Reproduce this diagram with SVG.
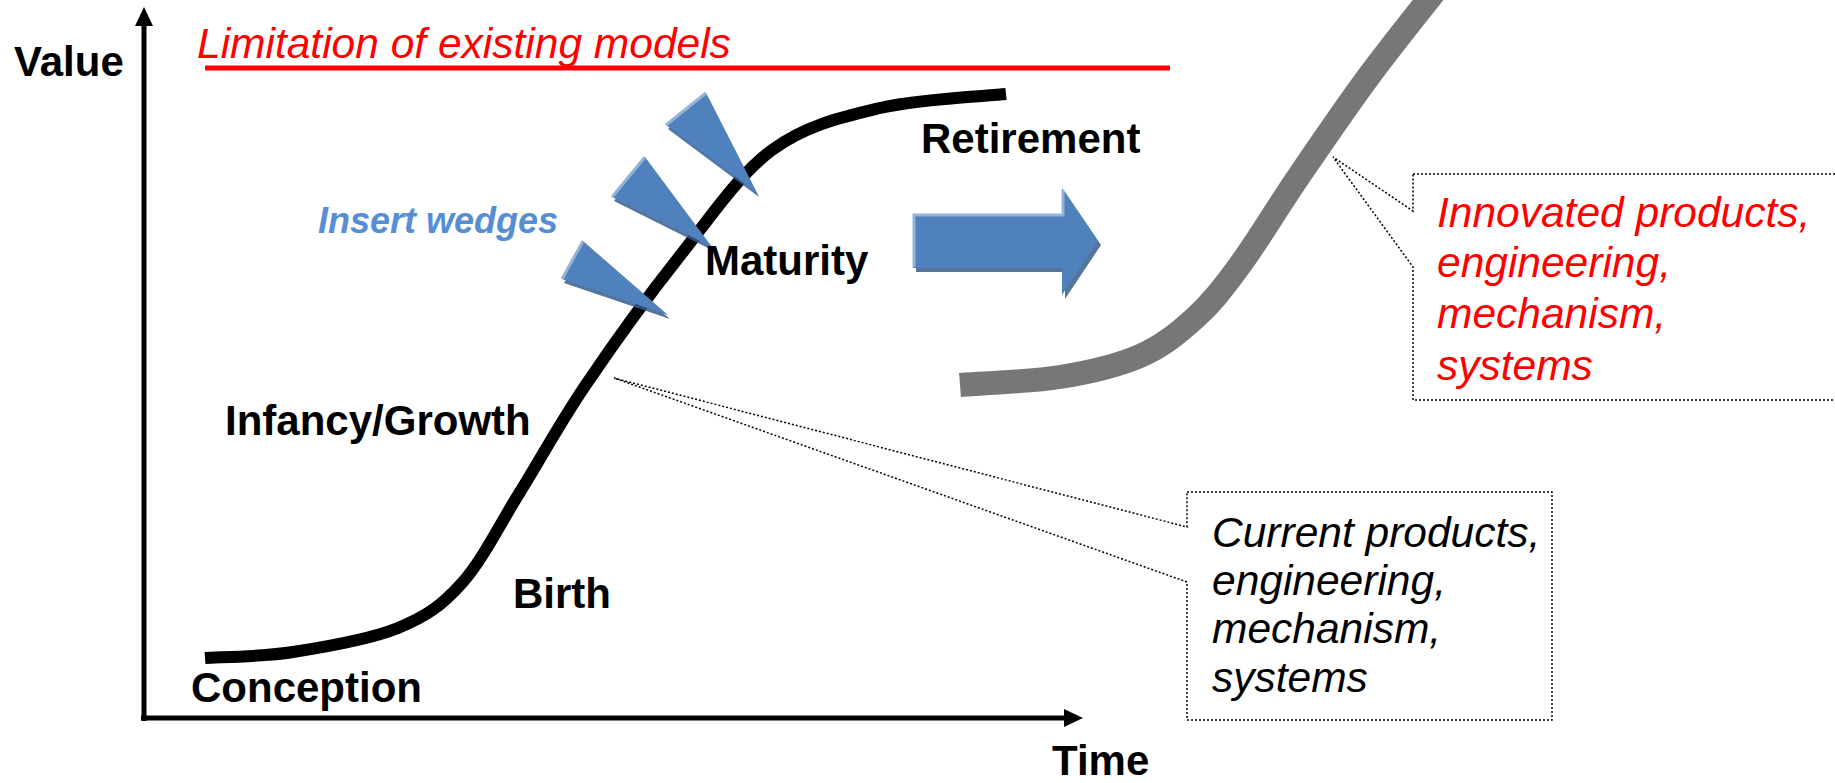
<svg xmlns="http://www.w3.org/2000/svg" width="1835" height="783" viewBox="0 0 1835 783">
<style>
  .lbl{font-family:"Liberation Sans",Arial,sans-serif;font-weight:bold;font-size:42px;fill:#000}
  .it{font-family:"Liberation Sans",Arial,sans-serif;font-style:italic;font-size:42.5px}
  .callout{fill:#fff;stroke:#000;stroke-width:1.5;stroke-dasharray:2 2}
  .wedge{fill:#4f81bd}
  .shadow{fill:#385d8a;opacity:0.85}
  .hl{stroke:#95b3d7;stroke-width:3;fill:none}
</style>
<rect width="1835" height="783" fill="#fff"/>

<g id="connectors">
  <line x1="144" y1="721" x2="144" y2="24" stroke="#000" stroke-width="5"/>
  <polygon points="135,26 144,7 153,26" fill="#000"/>
  <line x1="141" y1="718" x2="1066" y2="718" stroke="#000" stroke-width="5"/>
  <polygon points="1064,709 1083,718 1064,727" fill="#000"/>
</g>

<g id="limitation">
  <line x1="205" y1="68" x2="1170" y2="68" stroke="#ff0000" stroke-width="5"/>
  <text class="it" x="197" y="58" fill="#ff0000">Limitation of existing models</text>
</g>

<g id="current-curve">
  <path d="M205,658 C219.7,657 260.8,657 293,652 C325.2,647 369.8,639.5 398,628 C426.2,616.5 441.7,605.7 462,583 C482.3,560.3 499.5,524.8 520,492 C540.5,459.2 558.5,425.2 585,386 C611.5,346.8 647.8,296.3 679,257 C710.2,217.7 738.5,174.8 772,150 C805.5,125.2 841,117.3 880,108 C919,98.7 985,96.3 1006,94" fill="none" stroke="#000" stroke-width="12"/>
</g>

<g id="innovated-curve">
  <path d="M960,385 C976.7,383.7 1030,381.8 1060,377 C1090,372.2 1117.5,365.8 1140,356 C1162.5,346.2 1178.3,333.2 1195,318 C1211.7,302.8 1222.7,288.7 1240,265 C1257.3,241.3 1277.5,207.5 1299,176 C1320.5,144.5 1345.5,107.8 1369,76 C1392.5,44.2 1428,0.2 1440,-15" fill="none" stroke="#777777" stroke-width="24"/>
</g>

<g id="wedges">
  <polygon class="shadow" points="668,129 708,97 759,197"/>
  <polygon class="wedge" points="666,125 706,93 757,193"/>
  <line class="hl" x1="666" y1="125" x2="706" y2="93"/>
  <polygon class="shadow" points="614,201 647,161 714,251"/>
  <polygon class="wedge" points="612,197 645,157 712,247"/>
  <line class="hl" x1="612" y1="197" x2="645" y2="157"/>
  <polygon class="shadow" points="564,283 585,245 670,319"/>
  <polygon class="wedge" points="562,279 583,241 668,315"/>
  <line class="hl" x1="562" y1="279" x2="583" y2="241"/>
</g>

<g id="insert-wedges">
  <text x="318" y="233" font-family="Liberation Sans, Arial, sans-serif" font-weight="bold" font-style="italic" font-size="36" fill="#558ed5">Insert wedges</text>
</g>

<g id="big-arrow">
  <polygon class="shadow" points="916,218 1065,218 1065,192 1101,245 1065,299 1065,272 916,272"/>
  <polygon class="wedge" points="913,214 1062,214 1062,188 1098,241 1062,295 1062,268 913,268"/>
  <polyline class="hl" points="914,267 914,215 1063,215 1063,190"/>
</g>

<g id="labels">
  <text class="lbl" x="14" y="76">Value</text>
  <text class="lbl" x="1052" y="775">Time</text>
  <text class="lbl" x="921" y="153">Retirement</text>
  <text class="lbl" x="705" y="275">Maturity</text>
  <text class="lbl" x="225" y="435">Infancy/Growth</text>
  <text class="lbl" x="513" y="608">Birth</text>
  <text class="lbl" x="191" y="702">Conception</text>
</g>

<g id="current-callout">
  <path class="callout" d="M1187,492 L1552,492 L1552,720 L1187,720 L1187,582 L614,378 L1187,527 Z"/>
  <text class="it" fill="#000"><tspan x="1212" y="547">Current products,</tspan><tspan x="1212" y="595">engineering,</tspan><tspan x="1212" y="643">mechanism,</tspan><tspan x="1212" y="692">systems</tspan></text>
</g>

<g id="innovated-callout">
  <path class="callout" d="M1413,174 L1840,174 L1840,400 L1413,400 L1413,267 L1333,157 L1413,211 Z"/>
  <text class="it" fill="#ff0000"><tspan x="1437" y="227">Innovated products,</tspan><tspan x="1437" y="277">engineering,</tspan><tspan x="1437" y="328">mechanism,</tspan><tspan x="1437" y="380">systems</tspan></text>
</g>
</svg>
